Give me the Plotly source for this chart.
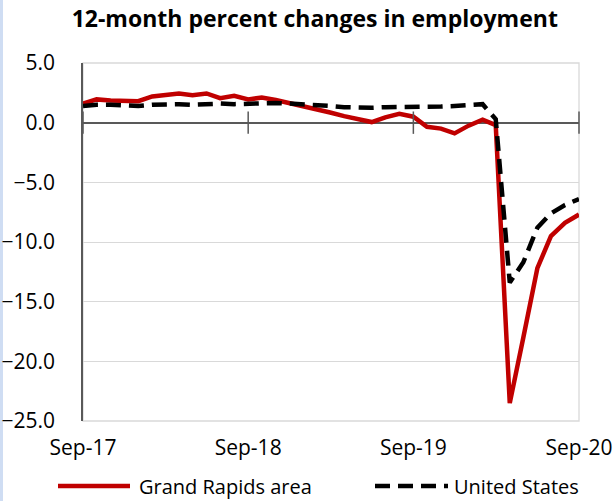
import pandas as pd
import plotly.graph_objects as go

# Monthly observations, Sep 2017 through Sep 2020
months = pd.date_range("2017-09-01", "2020-09-01", freq="MS")

grand_rapids = [1.6, 1.95, 1.85, 1.85, 1.8, 2.2, 2.35, 2.45, 2.3, 2.45, 2.05, 2.25,
                1.95, 2.1, 1.9, 1.65, 1.4, 1.05, 0.85, 0.55, 0.3, 0.05, 0.45, 0.75,
                0.5, -0.35, -0.5, -0.9, -0.25, 0.25, -0.2, -23.5, -18.0, -12.2, -9.5,
                -8.4, -7.7]

united_states = [1.4, 1.5, 1.5, 1.45, 1.4, 1.5, 1.55, 1.55, 1.5, 1.55, 1.6, 1.55,
                 1.6, 1.65, 1.65, 1.6, 1.55, 1.5, 1.4, 1.3, 1.25, 1.25, 1.3, 1.3,
                 1.35, 1.35, 1.35, 1.4, 1.45, 1.55, 0.3, -13.4, -11.7, -8.8, -7.6,
                 -6.9, -6.4]

tick_dates = ["2017-09-01", "2018-09-01", "2019-09-01", "2020-09-01"]
tick_labels = ["Sep-17", "Sep-18", "Sep-19", "Sep-20"]

FONT = "Open Sans"
AXIS_DARK = "#595959"
GRID = "#d9d9d9"
RED = "#c00000"
DASH = "15px,8px"
W, H = 616, 501
L, R, T, B = 83, 37, 63, 80
PW, PH = W - L - R, H - T - B

series = [
    ("Grand Rapids area", grand_rapids, dict(color=RED, width=4.5)),
    ("United States", united_states, dict(color="#000000", width=4.5, dash=DASH)),
]

fig = go.Figure()
for name, values, line in series:
    fig.add_trace(go.Scatter(x=months, y=values, name=name, mode="lines",
                             line=line, showlegend=False))

# cross tick marks on the zero axis line
fig.add_trace(go.Scatter(
    x=tick_dates, y=[0] * len(tick_dates), mode="markers", showlegend=False,
    hoverinfo="skip", cliponaxis=False,
    marker=dict(symbol="line-ns", size=16, line=dict(color=AXIS_DARK, width=1.5)),
))

# legend row under the chart: long line samples followed by the series names
legend_row = -(486 - (T + PH)) / PH
legend_items = [(58, 130, 137), (375, 448, 452)]
shapes = [
    dict(type="rect", xref="paper", yref="paper", x0=0, x1=1, y0=0, y1=1,
         line=dict(color=GRID, width=1.3), layer="below"),
    dict(type="rect", xref="paper", yref="paper", x0=-L / PW, x1=-(L - 3) / PW,
         y0=-B / PH, y1=(PH + T) / PH, line=dict(width=0),
         fillcolor="#cfddf3", layer="below"),
]
annotations = []
legend_lines = [dict(color=RED, width=4.5), dict(color="#000000", width=4.5, dash=DASH)]
for (s0, s1, tx), (name, _, _), ln in zip(legend_items, series, legend_lines):
    shapes.append(dict(type="line", xref="paper", yref="paper",
                       x0=(s0 - L) / PW, x1=(s1 - L) / PW,
                       y0=legend_row, y1=legend_row, line=ln))
    annotations.append(dict(text=name, xref="paper", yref="paper",
                            x=(tx - L) / PW, y=legend_row,
                            xanchor="left", yanchor="middle", showarrow=False,
                            font=dict(family=FONT, size=20, color="#000000")))

fig.update_layout(
    width=W, height=H,
    margin=dict(l=L, r=R, t=T, b=B),
    paper_bgcolor="white", plot_bgcolor="white",
    font=dict(family=FONT, size=21, color="#000000"),
    title=dict(text="<b>12-month percent changes in employment</b>",
               x=0.511, xref="container", xanchor="center",
               y=0.963, yref="container", yanchor="middle",
               font=dict(family=FONT, size=23, color="#000000")),
    showlegend=False,
    xaxis=dict(range=[tick_dates[0], tick_dates[-1]], tickvals=tick_dates,
               ticktext=tick_labels, showgrid=False, zeroline=False, showline=False,
               ticks="", ticklabelstandoff=12, automargin=False,
               tickfont=dict(family=FONT, size=21, color="#000000")),
    yaxis=dict(range=[-25, 5], dtick=5, tickformat=".1f", showgrid=True,
               gridcolor=GRID, gridwidth=1.3, zeroline=True, zerolinecolor=AXIS_DARK,
               zerolinewidth=1.5, showline=True, linecolor=AXIS_DARK, linewidth=1.5,
               ticks="", ticklabelstandoff=22, automargin=False,
               tickfont=dict(family=FONT, size=21, color="#000000")),
    shapes=shapes,
    annotations=annotations,
)

fig.write_html("out.html")
